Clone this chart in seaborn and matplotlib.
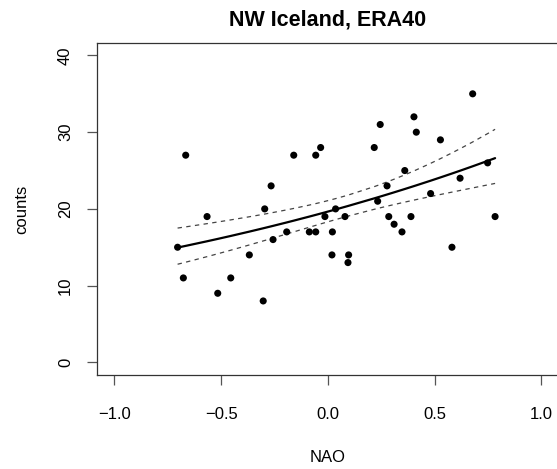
import numpy as np
import pandas as pd
import matplotlib
matplotlib.use("Agg")
import matplotlib.pyplot as plt
import seaborn as sns

# NAO index and event counts
nao = [-0.704, -0.677, -0.666, -0.566, -0.516, -0.455, -0.368, -0.303, -0.296,
       -0.266, -0.257, -0.193, -0.160, -0.087, -0.057, -0.057, -0.034, -0.014,
       0.019, 0.021, 0.036, 0.080, 0.094, 0.097, 0.217, 0.233, 0.245, 0.277,
       0.285, 0.310, 0.347, 0.360, 0.389, 0.403, 0.414, 0.481, 0.527, 0.581,
       0.619, 0.678, 0.748, 0.783]
counts = [15, 11, 27, 19, 9, 11, 14, 8, 20,
          23, 16, 17, 27, 17, 17, 27, 28, 19,
          14, 17, 20, 19, 13, 14, 28, 21, 31, 23,
          19, 18, 17, 25, 19, 32, 30, 22, 29, 15,
          24, 35, 26, 19]

xticks = [-1.0, -0.5, 0.0, 0.5, 1.0]
yticks = [0, 10, 20, 30, 40]

df = pd.DataFrame({"nao": nao, "counts": counts})


def poisson_fit(x, y, n_iter=50):
    # log-link Poisson GLM via IRLS
    X = np.column_stack([np.ones_like(x), x])
    beta = np.array([np.log(y.mean()), 0.0])
    for _ in range(n_iter):
        eta = X @ beta
        mu = np.exp(eta)
        z = eta + (y - mu) / mu
        XtW = X.T * mu
        beta = np.linalg.solve(XtW @ X, XtW @ z)
    mu = np.exp(X @ beta)
    cov = np.linalg.inv((X.T * mu) @ X)
    return beta, cov


x = df["nao"].to_numpy(float)
y = df["counts"].to_numpy(float)
beta, cov = poisson_fit(x, y)

xs = np.sort(x)
Xs = np.column_stack([np.ones_like(xs), xs])
eta = Xs @ beta
se = np.sqrt(np.einsum("ij,jk,ik->i", Xs, cov, Xs))
fit = pd.DataFrame({"nao": xs,
                    "mean": np.exp(eta),
                    "lo": np.exp(eta - 1.96 * se),
                    "hi": np.exp(eta + 1.96 * se)})

sns.set_theme(style="white")
plt.rcParams["font.family"] = ["Liberation Sans", "DejaVu Sans"]
plt.rcParams["text.color"] = "black"
plt.rcParams["axes.labelcolor"] = "black"
plt.rcParams["xtick.labelcolor"] = "black"
plt.rcParams["ytick.labelcolor"] = "black"

fig = plt.figure(figsize=(5.57, 4.69), dpi=100)
ax = fig.add_axes([0.1747, 0.2013, 0.8280, 0.7066])

sns.scatterplot(data=df, x="nao", y="counts", ax=ax, color="black",
                s=26, edgecolor="none", zorder=3)
sns.lineplot(data=fit, x="nao", y="mean", ax=ax, color="black",
             linewidth=1.6, estimator=None, sort=False)
for col in ["lo", "hi"]:
    sns.lineplot(data=fit, x="nao", y=col, ax=ax, color="#444444",
                 linewidth=0.9, estimator=None, sort=False,
                 linestyle=(0, (3.5, 3.5)))

ax.set_xlim(-1.08, 1.08)
ax.set_ylim(-1.6, 41.6)
ax.set_xticks(xticks)
ax.set_yticks(yticks)
ax.set_xticklabels([f"{t:.1f}".replace("-", "\u2212") for t in xticks], fontsize=12)
ax.set_yticklabels([str(t) for t in yticks], fontsize=12, rotation=90, va="center")

for sp in ax.spines.values():
    sp.set_visible(True)
    sp.set_color("#333333")
    sp.set_linewidth(0.9)

ax.tick_params(axis="both", direction="out", length=7.5, width=0.9,
               color="#555555", bottom=True, left=True)
ax.tick_params(axis="x", pad=16)
ax.tick_params(axis="y", pad=10)

ax.set_xlabel("NAO", fontsize=12)
ax.set_ylabel("counts", fontsize=12)
ax.xaxis.set_label_coords(0.5, -0.228)
ax.yaxis.set_label_coords(-0.148, 0.5)
ax.set_title("NW Iceland, ERA40", fontsize=15.5, fontweight="bold", pad=13)

fig.savefig("out.png", dpi=100)
